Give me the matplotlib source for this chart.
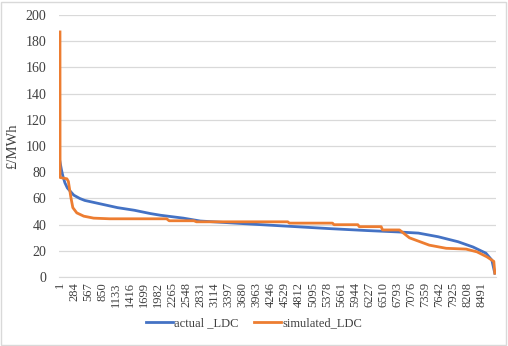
import numpy as np
import matplotlib.pyplot as plt
from matplotlib.patches import Rectangle

# values (hour rank, price in £/MWh)
actual_h = [1, 30, 60, 100, 150, 220, 280, 400, 500, 800, 1160, 1500, 1820, 2025,
            2486, 2827, 3830, 5434, 6200, 6800, 7220, 7620, 8020, 8320, 8580, 8700, 8760]
actual_v = [88, 82, 77, 72, 68, 65, 62.5, 60, 58.5, 56, 53, 51, 48.5, 47.2,
            45, 42.8, 40.5, 37, 35.5, 34.5, 33.6, 30.8, 27, 23, 18.3, 13, 3]

sim_h = [1, 3, 140, 170, 220, 260, 340, 480, 680, 1000, 2150, 2200, 2700, 2750,
         4590, 4620, 5490, 5520, 6000, 6030, 6470, 6500, 6840, 7040, 7440, 7780,
         8180, 8400, 8600, 8740, 8760]
sim_v = [187, 76, 75, 73, 61, 53, 49, 46.5, 45, 44.5, 44.5, 43, 43, 42.2,
         42.2, 41.2, 41.2, 40, 40, 38.5, 38.5, 36, 36, 30, 24.4, 22,
         21.4, 19.3, 15.5, 12, 3]

tick_pos = list(range(1, 8761, 283))
y_ticks = list(range(0, 201, 20))

plt.rcParams['font.family'] = ['Liberation Serif', 'DejaVu Serif']

fig = plt.figure(figsize=(5.08, 3.46), dpi=100)
ax = fig.add_axes([0.116, 0.199, 0.86, 0.758])

ax.plot(actual_h, actual_v, color='#4472C4', lw=2.0, label='actual _LDC')
ax.plot(sim_h, sim_v, color='#ED7D31', lw=2.0, label='simulated_LDC')

ax.set_xlim(-20, 8780)
ax.set_ylim(0, 200)
ax.set_yticks(y_ticks)
ax.set_xticks(tick_pos)
ax.set_xticklabels([str(t) for t in tick_pos], rotation=90)
ax.tick_params(axis='both', length=0, labelsize=9, colors='#404040')
ax.tick_params(axis='y', pad=9, labelsize=10)
ax.grid(axis='y', color='#d9d9d9', lw=0.9)
ax.set_axisbelow(True)
for s in ['top', 'right', 'left']:
    ax.spines[s].set_visible(False)
ax.spines['bottom'].set_color('#d9d9d9')
ax.set_ylabel('£/MWh', fontsize=10.5, color='#404040')
ax.yaxis.set_label_coords(-0.09, 0.5)

fig.legend(loc='lower center', bbox_to_anchor=(0.5, 0.015), ncol=2, frameon=False,
           fontsize=9, handlelength=2.2, columnspacing=1.2, handletextpad=0.1,
           labelcolor='#404040')

fig.patches.append(Rectangle((0.002, 0.004), 0.994, 0.99, transform=fig.transFigure,
                             fill=False, edgecolor='#d9d9d9', lw=1))

fig.savefig('out.png', dpi=100)
